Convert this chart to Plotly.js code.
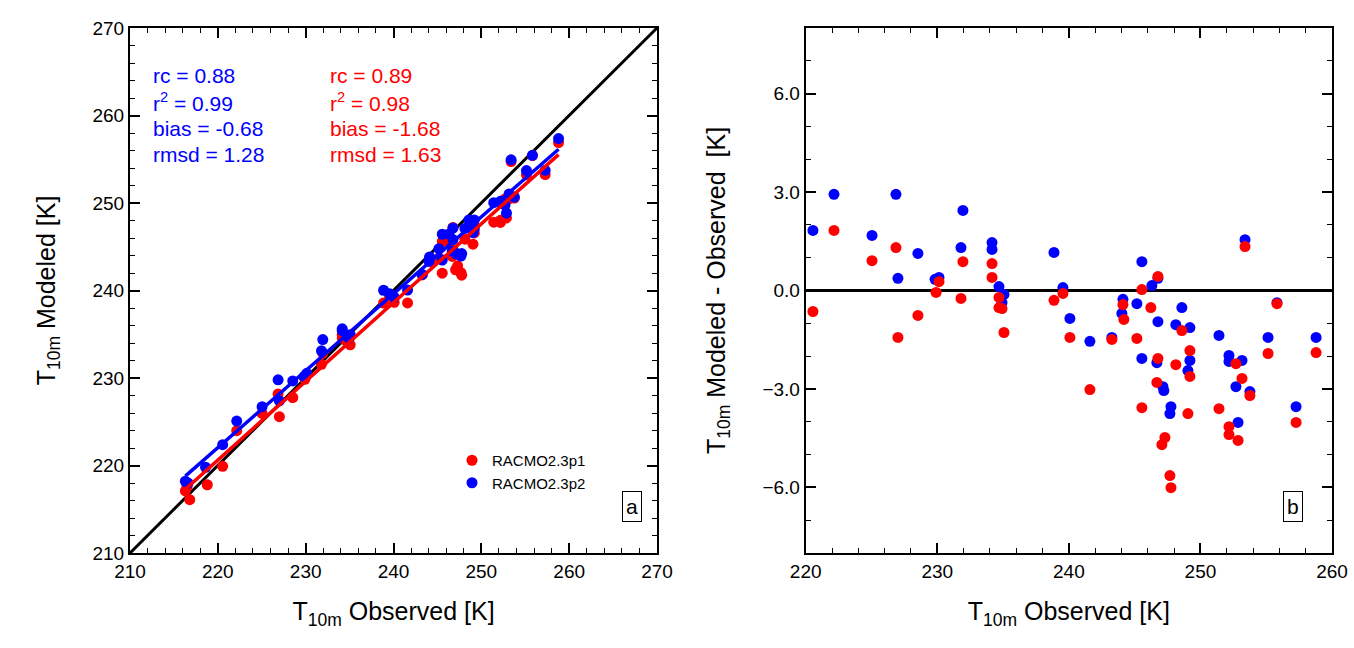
<!DOCTYPE html>
<html>
<head>
<meta charset="utf-8">
<script src="https://cdn.plot.ly/plotly-3.0.1.min.js"></script>
<style>body{margin:0;background:#fff}</style>
</head>
<body>
<div id="chart" style="width:1354px;height:648px"></div>
<script>
// observed T10m and (modeled - observed) per station, RACMO2.3p2 (blue)
var obsP2 = [220.55,222.15,225.04,226.86,227.01,228.53,229.83,230.13,231.80,231.95,234.16,234.16,234.69,235.07,234.92,
  238.87,239.55,240.08,241.60,243.27,244.11,244.03,245.17,245.55,245.55,246.31,246.77,246.69,246.77,247.15,247.22,
  247.76,247.68,248.59,248.13,249.20,249.20,249.05,251.41,252.17,252.17,253.16,252.70,253.76,252.86,253.39,255.82,
  255.14,258.79,257.27];
var diffP2 = [1.83,2.93,1.68,2.93,0.37,1.13,0.34,0.40,1.31,2.44,1.46,1.25,0.12,-0.12,-0.37,
  1.16,0.09,-0.85,-1.55,-1.43,-0.27,-0.70,-0.40,0.88,-2.07,0.15,0.37,-2.20,-0.95,-2.93,-3.05,
  -3.54,-3.75,-0.52,-1.04,-1.13,-2.13,-2.44,-1.37,-1.98,-2.16,-2.13,-2.93,-3.08,-4.02,1.55,-0.37,
  -1.43,-1.43,-3.54];
// RACMO2.3p1 (red)
var obsP1 = [220.55,222.15,225.04,226.86,227.01,228.53,229.91,230.13,231.80,231.95,234.16,234.16,234.69,234.69,234.92,235.07,
  238.87,239.55,240.08,241.60,243.27,244.11,244.18,245.17,245.55,245.55,246.23,246.77,246.77,246.69,247.30,247.07,
  247.68,247.76,248.59,248.13,249.20,249.20,249.05,251.41,252.70,253.16,253.76,252.17,252.17,252.86,253.39,255.82,
  255.14,258.79,257.27];
var diffP1 = [-0.64,1.83,0.91,1.31,-1.43,-0.76,-0.06,0.27,-0.24,0.88,0.82,0.40,-0.21,-0.52,-0.55,-1.28,
  -0.30,-0.09,-1.43,-3.02,-1.49,-0.43,-0.88,-1.46,0.03,-3.57,-0.52,0.43,-2.07,-2.80,-4.48,-4.70,
  -5.64,-6.01,-1.22,-2.26,-1.83,-2.62,-3.75,-3.60,-2.23,-2.68,-3.20,-4.15,-4.39,-4.57,1.34,-0.40,
  -1.92,-1.89,-4.02];
// stations colder than 220 K (only in panel a)
var coldObsP2 = [216.3,216.6,218.6];
var coldModP2 = [218.2,218.0,219.8];
var coldObsP1 = [216.3,216.8,218.8,216.5];
var coldModP1 = [217.1,216.1,217.8,217.6];

var statsP2 = ['rc = 0.88','r<sup>2</sup> = 0.99','bias = -0.68','rmsd = 1.28'];
var statsP1 = ['rc = 0.89','r<sup>2</sup> = 0.98','bias = -1.68','rmsd = 1.63'];

var BLUE = '#0000ff', RED = '#ff0000';

function modeled(obs, diff) { return obs.map(function (v, i) { return v + diff[i]; }); }
function fitLine(x, y) {
  var n = x.length, mx = 0, my = 0, sxy = 0, sxx = 0;
  for (var i = 0; i < n; i++) { mx += x[i] / n; my += y[i] / n; }
  for (var i = 0; i < n; i++) { sxy += (x[i] - mx) * (y[i] - my); sxx += (x[i] - mx) * (x[i] - mx); }
  var b = sxy / sxx, a = my - b * mx;
  var x0 = Math.min.apply(null, x), x1 = Math.max.apply(null, x);
  return { x: [x0, x1], y: [a + b * x0, a + b * x1] };
}

var xa1 = coldObsP1.concat(obsP1), ya1 = coldModP1.concat(modeled(obsP1, diffP1));
var xa2 = coldObsP2.concat(obsP2), ya2 = coldModP2.concat(modeled(obsP2, diffP2));
var f1 = fitLine(xa1, ya1), f2 = fitLine(xa2, ya2);

var mk = function (c) { return { color: c, size: 11 }; };
var data = [
  { x: [210, 270], y: [210, 270], mode: 'lines', line: { color: 'black', width: 3 }, showlegend: false, hoverinfo: 'skip' },
  { x: xa1, y: ya1, mode: 'markers', marker: mk(RED), name: 'RACMO2.3p1' },
  { x: xa2, y: ya2, mode: 'markers', marker: mk(BLUE), name: 'RACMO2.3p2' },
  { x: f2.x, y: f2.y, mode: 'lines', line: { color: BLUE, width: 3.5 }, showlegend: false },
  { x: f1.x, y: f1.y, mode: 'lines', line: { color: RED, width: 3.5 }, showlegend: false },
  { x: [220, 260], y: [0, 0], xaxis: 'x2', yaxis: 'y2', mode: 'lines', line: { color: 'black', width: 3 }, showlegend: false },
  { x: obsP2, y: diffP2, xaxis: 'x2', yaxis: 'y2', mode: 'markers', marker: mk(BLUE), showlegend: false },
  { x: obsP1, y: diffP1, xaxis: 'x2', yaxis: 'y2', mode: 'markers', marker: mk(RED), showlegend: false }
];

var axBase = {
  showgrid: false, zeroline: false, showline: true, linecolor: 'black', linewidth: 2, mirror: 'allticks',
  ticks: 'inside', ticklen: 10, tickwidth: 2, tickcolor: 'black',
  tickfont: { size: 19, color: 'black' }
};
function ax(extra, minorStep) {
  var a = Object.assign({}, JSON.parse(JSON.stringify(axBase)), extra);
  a.minor = { ticks: 'inside', ticklen: 5, tickwidth: 1, dtick: minorStep, tickcolor: 'black' };
  return a;
}

var ann = [];
function addStats(lines, xp, col) {
  lines.forEach(function (t, i) {
    ann.push({ xref: 'paper', yref: 'paper', x: xp, y: (553 - (75 + i * 26.5)) / 525, text: t, showarrow: false,
      xanchor: 'left', yanchor: 'middle', font: { size: 21, color: col } });
  });
}
addStats(statsP2, 151 / 1354, BLUE);
addStats(statsP1, 328 / 1354, RED);
ann.push({ xref: 'paper', yref: 'paper', x: 632 / 1354, y: (553 - 522) / 525, text: 'a', showarrow: false,
  font: { size: 21, color: 'black' }, bordercolor: 'black', borderwidth: 1, borderpad: 3, bgcolor: 'white' });
ann.push({ xref: 'paper', yref: 'paper', x: 1303 / 1354, y: (553 - 522) / 525, text: 'b', showarrow: false,
  font: { size: 21, color: 'black' }, bordercolor: 'black', borderwidth: 1, borderpad: 3, bgcolor: 'white' });

var titleFont = { size: 25 };
var layout = {
  width: 1354, height: 648, margin: { l: 0, r: 0, t: 28, b: 95 },
  paper_bgcolor: 'white', plot_bgcolor: 'white',
  font: { family: 'Liberation Sans, Arial, sans-serif', color: 'black' },
  xaxis: ax({ domain: [130 / 1354, 657 / 1354], range: [210, 270], dtick: 10,
    title: { text: 'T<sub>10m</sub> Observed [K]', font: titleFont, standoff: 22 } }, 2),
  yaxis: ax({ domain: [0, 1], range: [210, 270], dtick: 10,
    title: { text: 'T<sub>10m</sub> Modeled [K]', font: titleFont, standoff: 30 } }, 2),
  xaxis2: ax({ domain: [805.7 / 1354, 1332 / 1354], range: [220, 260], dtick: 10, anchor: 'y2',
    title: { text: 'T<sub>10m</sub> Observed [K]', font: titleFont, standoff: 22 } }, 2),
  yaxis2: ax({ domain: [0, 1], range: [-8, 8], dtick: 3, tick0: 0, tickformat: '.1f', anchor: 'x2',
    title: { text: 'T<sub>10m</sub> Modeled - Observed  [K]', font: titleFont, standoff: 30 } }, 1),
  legend: { x: 452 / 1354, y: (553 - 444) / 525, xanchor: 'left', yanchor: 'top', bgcolor: 'rgba(0,0,0,0)',
    font: { size: 15, color: 'black' }, tracegroupgap: 6 },
  annotations: ann,
  showlegend: true
};

Plotly.newPlot('chart', data, layout, { displayModeBar: false, staticPlot: true });
</script>
</body>
</html>
